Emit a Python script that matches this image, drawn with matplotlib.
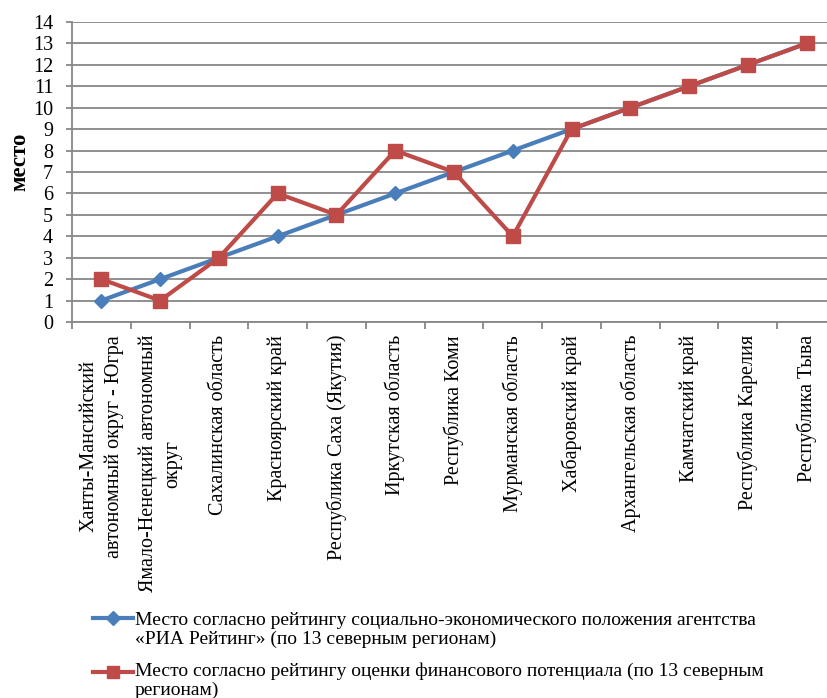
import matplotlib
matplotlib.use("Agg")
import matplotlib.pyplot as plt
import matplotlib.transforms as mtransforms
from matplotlib.lines import Line2D
import numpy as np

regions = [
    "Ханты-Мансийский\nавтономный округ - Югра",
    "Ямало-Ненецкий автономный\nокруг",
    "Сахалинская область",
    "Красноярский край",
    "Республика Саха (Якутия)",
    "Иркутская область",
    "Республика Коми",
    "Мурманская область",
    "Хабаровский край",
    "Архангельская область",
    "Камчатский край",
    "Республика Карелия",
    "Республика Тыва",
]
ria_rank = [1, 2, 3, 4, 5, 6, 7, 8, 9, 10, 11, 12, 13]
finance_rank = [2, 1, 3, 6, 5, 8, 7, 4, 9, 10, 11, 12, 13]

label_ria = ("Место согласно рейтингу социально-экономического положения агентства\n"
             "«РИА Рейтинг» (по 13 северным регионам)")
label_fin = ("Место согласно рейтингу оценки финансового потенциала (по 13 северным\n"
             "регионам)")
y_ticks = list(range(0, 15))

BLUE = "#4A7EBB"
RED = "#BE4B48"
GRID = "#878787"
FS = 14.5

plt.rcParams["font.family"] = ["Liberation Serif", "DejaVu Serif"]

W, H = 828, 698
fig = plt.figure(figsize=(W / 100, H / 100), dpi=100)
AX_L, AX_R, AX_T, AX_B = 72, 836, 22, 322
ax = fig.add_axes([AX_L / W, (H - AX_B) / H, (AX_R - AX_L) / W, (AX_B - AX_T) / H])

x = np.arange(len(regions))
ax.plot(x, ria_rank, color=BLUE, lw=3.0, marker="D", ms=7.5,
        markerfacecolor=BLUE, markeredgecolor=BLUE, zorder=3, clip_on=False)
ax.plot(x, finance_rank, color=RED, lw=3.0, marker="s", ms=10,
        markerfacecolor=RED, markeredgecolor=RED, zorder=4, clip_on=False)

ax.set_xlim(-0.5, len(regions) - 0.5)
ax.set_ylim(0, 14)
ax.set_yticks(y_ticks)
ax.set_yticklabels([str(v) for v in y_ticks], fontsize=FS)
ax.grid(axis="y", color=GRID, lw=1.3, zorder=0)
ax.set_axisbelow(True)

# category ticks sit between categories; names are placed under each category
ax.set_xticks(np.arange(-0.5, len(regions) + 0.5, 1))
ax.set_xticklabels([])
ax.tick_params(axis="x", length=5, width=1.3, color=GRID, direction="out")
name_tf = mtransforms.offset_copy(ax.get_xaxis_transform(), fig=fig,
                                  x=0, y=-13, units="dots")
for xi, name in zip(x, regions):
    ax.text(xi, 0, name, transform=name_tf, rotation=90, ha="center", va="top",
            multialignment="center", fontsize=FS, linespacing=1.4,
            clip_on=False)

ax.tick_params(axis="y", length=4.5, width=1.3, color=GRID, direction="out", pad=9)

for s in ("top", "right"):
    ax.spines[s].set_visible(False)
for s in ("left", "bottom"):
    ax.spines[s].set_color(GRID)
    ax.spines[s].set_linewidth(1.3)

ax.set_ylabel("место", fontsize=16.5, fontweight="bold")
ax.yaxis.set_label_coords(-(AX_L - 30) / (AX_R - AX_L), (AX_B - 162) / (AX_B - AX_T))

# legend below the chart, drawn in figure pixel coordinates
LEG_FS = 14


def legend_entry(line_y, text_top, color, marker, ms, text):
    yf = 1 - line_y / H
    fig.add_artist(Line2D([93 / W, 133 / W], [yf, yf], transform=fig.transFigure,
                          color=color, lw=3.0))
    fig.add_artist(Line2D([113 / W], [yf], transform=fig.transFigure,
                          color=color, marker=marker, ms=ms, lw=0,
                          markerfacecolor=color, markeredgecolor=color))
    fig.text(135 / W, 1 - text_top / H, text, fontsize=LEG_FS, va="top",
             ha="left", linespacing=1.13)


legend_entry(618, 612, BLUE, "D", 7, label_ria)
legend_entry(672, 662, RED, "s", 9, label_fin)

fig.savefig("out.png", dpi=100)
